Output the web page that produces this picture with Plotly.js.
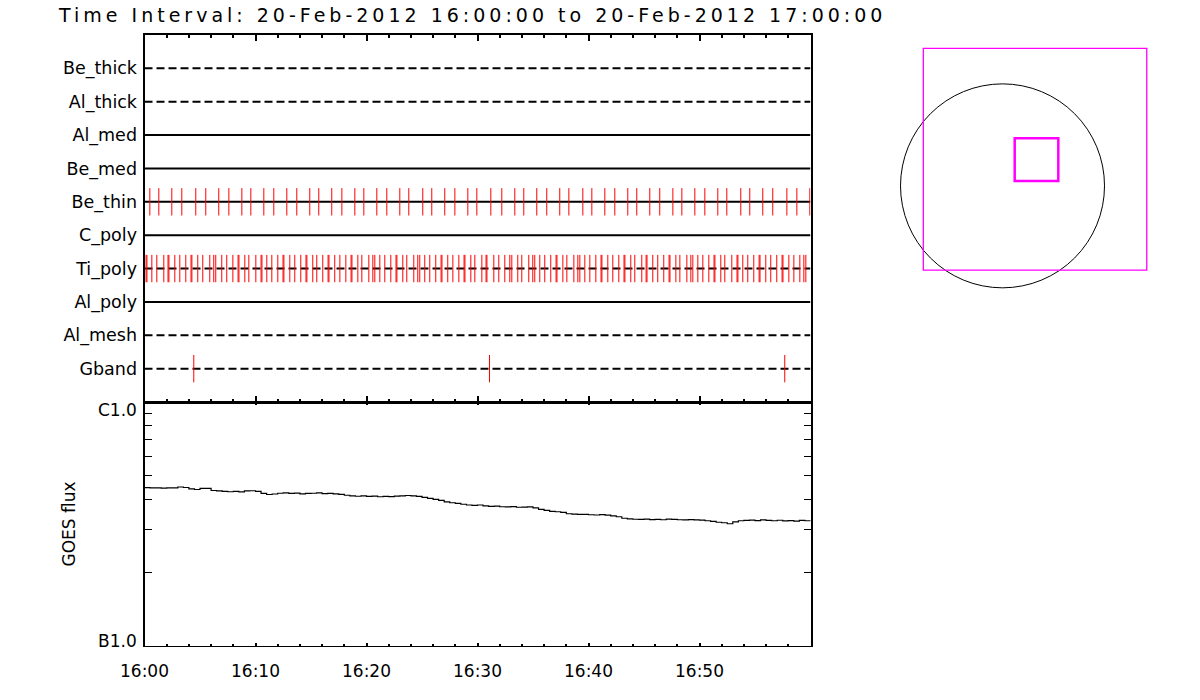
<!DOCTYPE html>
<html>
<head>
<meta charset="utf-8">
<script src="https://cdn.plot.ly/plotly-3.0.1.min.js"></script>
<style>
  html, body { margin: 0; padding: 0; background: #fff; }
  #chart { width: 1200px; height: 700px; }
  .gtitle { letter-spacing: 4px; }
</style>
</head>
<body>
<div id="chart"></div>
<script>
// ---------------- data ----------------
const chartTitle = 'Time Interval: 20-Feb-2012 16:00:00 to 20-Feb-2012 17:00:00';
const dayStart = '2012-02-20 16:00:00';
const dayEnd = '2012-02-20 17:00:00';

const rowNames = ['Be_thick', 'Al_thick', 'Al_med', 'Be_med', 'Be_thin', 'C_poly', 'Ti_poly', 'Al_poly', 'Al_mesh', 'Gband'];
const dashedRows = ['Be_thick', 'Al_thick', 'Ti_poly', 'Al_mesh', 'Gband'];

// image times, minutes after 16:00
const beThinMin = [0.48, 1.29, 2.46, 3.36, 4.62, 5.52, 6.69, 7.60, 8.77, 9.58, 10.75, 11.65, 12.82, 13.72, 14.89, 15.70,
  16.87, 17.78, 18.95, 19.76, 20.93, 21.83, 23.00, 23.81, 25.07, 25.88, 27.05, 27.96, 29.13, 29.94, 31.20, 32.19,
  33.36, 34.17, 35.34, 36.24, 37.41, 38.23, 39.49, 40.30, 41.47, 42.37, 43.54, 44.35, 45.52, 46.42, 47.60, 48.41,
  49.58, 50.48, 51.65, 52.46, 53.72, 54.53, 55.70, 56.60, 57.87, 58.77, 59.94];

const tiPolyMin = [0.14, 0.22, 0.66, 1.11, 1.74, 2.12, 2.20, 2.73, 3.18, 3.72, 4.19, 4.27, 4.80, 5.25, 5.88, 6.24, 6.42,
  6.96, 7.41, 7.96, 8.43, 8.51, 9.04, 9.40, 10.03, 10.50, 10.58, 11.02, 11.47, 12.01, 12.48, 12.56, 13.09, 13.54,
  14.08, 14.55, 14.63, 15.16, 15.52, 16.06, 16.54, 16.62, 17.14, 17.60, 18.14, 18.61, 18.69, 19.22, 19.58, 20.21,
  20.57, 20.75, 21.20, 21.65, 22.19, 22.66, 22.74, 23.27, 23.63, 24.26, 24.62, 24.80, 25.25, 25.70, 26.24, 26.72,
  26.80, 27.32, 27.78, 28.32, 28.79, 28.87, 29.40, 29.76, 30.39, 30.77, 30.85, 31.47, 31.92, 32.46, 32.91, 33.09,
  33.63, 33.99, 34.62, 34.98, 35.16, 35.61, 36.06, 36.60, 37.08, 37.16, 37.69, 38.05, 38.68, 39.04, 39.22, 39.67,
  40.12, 40.66, 41.13, 41.21, 41.74, 42.19, 42.73, 43.20, 43.28, 43.81, 44.17, 44.80, 45.19, 45.27, 45.79, 46.24,
  46.78, 47.26, 47.34, 47.87, 48.23, 48.86, 49.22, 49.40, 49.85, 50.30, 50.84, 51.31, 51.39, 51.92, 52.28, 52.91,
  53.38, 53.46, 53.90, 54.35, 54.89, 55.37, 55.45, 55.97, 56.42, 56.96, 57.44, 57.52, 58.05, 58.50, 59.04, 59.40, 59.58];

const gbandMin = [4.44, 31.08, 57.68];

// GOES flux, minutes after 16:00 and flux in units of 1e-7 W/m^2
const goesMinutes = [0, 0.5, 1, 1.5, 2, 2.5, 3, 3.5, 4, 4.5, 5, 5.5, 6, 6.5, 7, 7.5, 8, 8.5, 9, 9.5,
  10, 10.5, 11, 11.5, 12, 12.5, 13, 13.5, 14, 14.5, 15, 15.5, 16, 16.5, 17, 17.5, 18, 18.5, 19, 19.5,
  20, 20.5, 21, 21.5, 22, 22.5, 23, 23.5, 24, 24.5, 25, 25.5, 26, 26.5, 27, 27.5, 28, 28.5, 29, 29.5,
  30, 30.5, 31, 31.5, 32, 32.5, 33, 33.5, 34, 34.5, 35, 35.5, 36, 36.5, 37, 37.5, 38, 38.5, 39, 39.5,
  40, 40.5, 41, 41.5, 42, 42.5, 43, 43.5, 44, 44.5, 45, 45.5, 46, 46.5, 47, 47.5, 48, 48.5, 49, 49.5,
  50, 50.5, 51, 51.5, 52, 52.5, 53, 53.5, 54, 54.5, 55, 55.5, 56, 56.5, 57, 57.5, 58, 58.5, 59, 59.5, 60];
const goesFlux = [4.455, 4.443, 4.451, 4.434, 4.443, 4.447, 4.484, 4.463, 4.401, 4.380,
  4.422, 4.430, 4.339, 4.319, 4.299, 4.287, 4.299, 4.279, 4.319, 4.327,
  4.299, 4.218, 4.178, 4.198, 4.227, 4.239, 4.218, 4.231, 4.206, 4.218,
  4.227, 4.239, 4.214, 4.223, 4.206, 4.186, 4.147, 4.127, 4.108, 4.120,
  4.101, 4.112, 4.089, 4.105, 4.097, 4.112, 4.127, 4.139, 4.124, 4.105,
  4.063, 4.025, 3.986, 3.949, 3.894, 3.865, 3.839, 3.810, 3.784, 3.767,
  3.784, 3.749, 3.732, 3.742, 3.721, 3.714, 3.725, 3.704, 3.707, 3.714,
  3.680, 3.627, 3.593, 3.560, 3.550, 3.527, 3.483, 3.470, 3.460, 3.466,
  3.450, 3.443, 3.456, 3.437, 3.412, 3.386, 3.339, 3.317, 3.307, 3.301,
  3.310, 3.298, 3.304, 3.291, 3.310, 3.301, 3.291, 3.285, 3.298, 3.285,
  3.279, 3.261, 3.239, 3.215, 3.200, 3.169, 3.224, 3.261, 3.273, 3.279,
  3.267, 3.285, 3.270, 3.261, 3.276, 3.255, 3.267, 3.248, 3.273, 3.261,
  3.255];

const xTickLabels = ['16:00', '16:10', '16:20', '16:30', '16:40', '16:50'];
const goesTickLabels = ['B1.0', 'C1.0'];
const goesTickValues = [1, 10];
const goesMinorValues = [2, 3, 4, 5, 6, 7, 8, 9];

// solar disk & pointing (arcsec)
const sunRadius = 975;
const fovCenter = [311, 254];
const fovSize = [2136, 2120];
const roiCenter = [325, 250];
const roiSize = [417, 408];

// ---------------- helpers ----------------
const baseMs = Date.UTC(2012, 1, 20, 16, 0, 0);
function minToDate(m) {
  return new Date(baseMs + m * 60000).toISOString().replace('T', ' ').replace('Z', '');
}

const FONT = 'DejaVu Sans, Liberation Sans, sans-serif';
const markHalf = 0.41;
const traces = [];

rowNames.forEach((name, i) => {
  traces.push({
    type: 'scatter', mode: 'lines', xaxis: 'x', yaxis: 'y',
    x: [dayStart, dayEnd], y: [i + 1, i + 1],
    line: { color: '#000', width: 2, dash: dashedRows.includes(name) ? '8px,4px' : 'solid' },
    hoverinfo: 'skip', showlegend: false
  });
});

function markTrace(mins, rowName) {
  const r = rowNames.indexOf(rowName) + 1;
  const xs = [], ys = [];
  mins.forEach(m => { const t = minToDate(m); xs.push(t, t, null); ys.push(r - markHalf, r + markHalf, null); });
  return {
    type: 'scatter', mode: 'lines', xaxis: 'x', yaxis: 'y', x: xs, y: ys,
    line: { color: '#ff0000', width: 1 }, hoverinfo: 'skip', showlegend: false, connectgaps: false
  };
}
traces.push(markTrace(beThinMin, 'Be_thin'));
traces.push(markTrace(tiPolyMin, 'Ti_poly'));
traces.push(markTrace(gbandMin, 'Gband'));

traces.push({
  type: 'scatter', mode: 'lines', xaxis: 'x2', yaxis: 'y2',
  x: goesMinutes.map(minToDate), y: goesFlux,
  line: { color: '#000', width: 1.2, shape: 'hv' }, hoverinfo: 'skip', showlegend: false
});

traces.push({ type: 'scatter', mode: 'lines', xaxis: 'x3', yaxis: 'y3', x: [], y: [], showlegend: false });

// ---------------- layout ----------------
const W = 1200, H = 700;
const xDom = [144.5 / W, 810.5 / W];
const yUp = [1 - 402 / H, 1 - 35 / H];
const yLo = [1 - 646 / H, 1 - 402 / H];
const tickVals = xTickLabels.map(l => '2012-02-20 ' + l + ':00');

const commonX = {
  type: 'date', range: [dayStart, dayEnd], domain: xDom,
  tickmode: 'array', tickvals: tickVals, ticktext: xTickLabels,
  ticks: 'inside', tickcolor: '#000', mirror: 'ticks', showline: true, linecolor: '#000',
  showgrid: false, zeroline: false, fixedrange: true,
  tickfont: { family: FONT, size: 17, color: '#000' }
};

const layout = {
  width: W, height: H,
  margin: { l: 0, r: 0, t: 0, b: 0 },
  paper_bgcolor: '#fff', plot_bgcolor: 'rgba(0,0,0,0)',
  showlegend: false,
  font: { family: FONT, size: 17, color: '#000' },
  title: {
    text: chartTitle, xref: 'paper', yref: 'paper', x: 59 / W, xanchor: 'left',
    y: 1 - 15 / H, yanchor: 'middle', font: { family: FONT, size: 19, color: '#000' }
  },
  xaxis: Object.assign({}, commonX, {
    anchor: 'y', showticklabels: false, ticklen: 6, tickwidth: 2, linewidth: 2,
    minor: { tickmode: 'linear', tick0: dayStart, dtick: 120000, ticks: 'inside', ticklen: 3, tickwidth: 2, tickcolor: '#000', showgrid: false }
  }),
  yaxis: {
    domain: yUp, anchor: 'x', range: [11, 0],
    tickmode: 'array', tickvals: rowNames.map((n, i) => i + 1), ticktext: rowNames,
    ticks: '', showline: true, linewidth: 2, linecolor: '#000', mirror: true,
    showgrid: false, zeroline: false, fixedrange: true, ticklabelstandoff: 2,
    tickfont: { family: FONT, size: 17.5, color: '#000' }
  },
  xaxis2: Object.assign({}, commonX, {
    anchor: 'y2', showticklabels: true, ticklen: 3, tickwidth: 2, linewidth: 1,
    ticklabelstandoff: 10,
    minor: { tickmode: 'linear', tick0: dayStart, dtick: 120000, ticks: 'inside', ticklen: 2, tickwidth: 2, tickcolor: '#000', showgrid: false }
  }),
  yaxis2: {
    domain: yLo, anchor: 'x2', type: 'log', range: [0, 1],
    tickmode: 'array', tickvals: goesMinorValues, showticklabels: false,
    ticks: 'inside', ticklen: 7, tickwidth: 1, tickcolor: '#000', mirror: 'ticks',
    showline: true, linewidth: 2, linecolor: '#000', showgrid: false, zeroline: false, fixedrange: true,
    title: { text: 'GOES flux', standoff: 63, font: { family: FONT, size: 17, color: '#000' } }
  },
  xaxis3: { domain: [880 / W, 1170 / W], anchor: 'y3', range: [-1171, 1601], visible: false, fixedrange: true },
  yaxis3: { domain: [1 - 310 / H, 1 - 30 / H], anchor: 'x3', range: [-1187, 1490], visible: false, fixedrange: true },
  annotations: goesTickLabels.map((lbl, i) => ({
    text: lbl, xref: 'paper', yref: 'y2', x: 139 / W, xanchor: 'right',
    y: Math.log10(goesTickValues[i]), yanchor: i === 1 ? 'top' : 'bottom',
    yshift: i === 1 ? 4 : -7,
    showarrow: false, font: { family: FONT, size: 17, color: '#000' }
  })),
  shapes: [
    { type: 'circle', xref: 'x3', yref: 'y3', x0: -sunRadius, x1: sunRadius, y0: -sunRadius, y1: sunRadius,
      line: { color: '#000', width: 1 } },
    { type: 'rect', xref: 'x3', yref: 'y3',
      x0: fovCenter[0] - fovSize[0] / 2, x1: fovCenter[0] + fovSize[0] / 2,
      y0: fovCenter[1] - fovSize[1] / 2, y1: fovCenter[1] + fovSize[1] / 2,
      line: { color: '#ff00ff', width: 1.3 } },
    { type: 'rect', xref: 'x3', yref: 'y3',
      x0: roiCenter[0] - roiSize[0] / 2, x1: roiCenter[0] + roiSize[0] / 2,
      y0: roiCenter[1] - roiSize[1] / 2, y1: roiCenter[1] + roiSize[1] / 2,
      line: { color: '#ff00ff', width: 2.5 } }
  ]
};

Plotly.newPlot('chart', traces, layout, { staticPlot: true, displayModeBar: false });
</script>
</body>
</html>
